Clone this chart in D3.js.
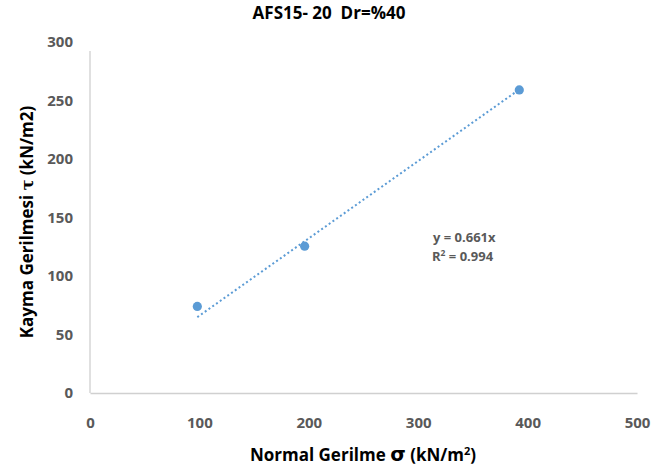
<!DOCTYPE html>
<html>
<head>
<meta charset="utf-8">
<script src="https://cdn.jsdelivr.net/npm/d3@7"></script>
<style>
  html, body { margin: 0; padding: 0; background: #fff; }
  svg { display: block; }
  text { font-family: "Open Sans", "Noto Sans", sans-serif; font-weight: bold; }
</style>
</head>
<body>
<svg id="chart" width="651" height="476"></svg>
<script>
// Direct shear test results: normal stress vs shear stress
const normalStress = [98.1, 196.2, 392.4];   // σ (kN/m²)
const shearStress  = [74, 125.5, 259];        // τ (kN/m²)
const xTicks = [0, 100, 200, 300, 400, 500];
const yTicks = [0, 50, 100, 150, 200, 250, 300];
const trendSlope = 0.661;
const trendR2 = 0.994;
const titleText = "AFS15- 20  Dr=%40";

const svg = d3.select("#chart");

const plot = { left: 90, right: 637, top: 42, bottom: 393, lineTop: 51 };

const x = d3.scaleLinear().domain([0, 500]).range([plot.left, plot.right]);
const y = d3.scaleLinear().domain([0, 300]).range([plot.bottom, plot.top]);

const axisColor = "#d0d0d0";
const tickColor = "#595959";
const blue = "#5b9bd5";
const font = "'Open Sans', sans-serif";

// Title
svg.append("text")
  .attr("x", 329).attr("y", 18.5)
  .attr("text-anchor", "middle")
  .attr("font-size", 17)
  .attr("fill", "#000")
  .style("white-space", "pre")
  .text(titleText);

// X axis
const gx = svg.append("g").attr("transform", `translate(0,${plot.bottom})`)
  .call(d3.axisBottom(x).tickValues(xTicks).tickSize(0).tickPadding(24).tickFormat(d3.format("d")));
gx.select(".domain").attr("stroke", axisColor).attr("stroke-width", 1.3);
gx.selectAll("text").attr("fill", tickColor).attr("font-size", 15)
  .style("font-family", font).style("font-weight", "bold");

// Y axis
const gy = svg.append("g").attr("transform", `translate(${plot.left},0)`)
  .call(d3.axisLeft(y).tickValues(yTicks).tickSize(0).tickPadding(17).tickFormat(d3.format("d")));
gy.select(".domain").attr("stroke", axisColor).attr("stroke-width", 1.3)
  .attr("d", `M0,${plot.bottom}V${plot.lineTop}`);
gy.selectAll("text").attr("fill", tickColor).attr("font-size", 15)
  .style("font-family", font).style("font-weight", "bold");

// Linear trendline through the origin, spanning the measured σ range
const xMin = d3.min(normalStress), xMax = d3.max(normalStress);
svg.append("line")
  .attr("x1", x(xMin)).attr("y1", y(trendSlope * xMin))
  .attr("x2", x(xMax)).attr("y2", y(trendSlope * xMax))
  .attr("stroke", blue)
  .attr("stroke-width", 2)
  .attr("stroke-dasharray", "2,2.6");

// Data points
const pts = normalStress.map((s, i) => ({ s, t: shearStress[i] }));
svg.append("g").selectAll("circle").data(pts).join("circle")
  .attr("cx", d => x(d.s))
  .attr("cy", d => y(d.t))
  .attr("r", 4.6)
  .attr("fill", blue);

// Trendline equation
const eq = svg.append("text")
  .attr("font-size", 13)
  .attr("fill", tickColor);
eq.append("tspan").attr("x", 433).attr("y", 242).text(`y = ${trendSlope}x`);
const r2 = eq.append("tspan").attr("x", 432).attr("y", 261);
r2.append("tspan").text("R");
r2.append("tspan").attr("dy", -5).attr("font-size", 8.5).text("2");
r2.append("tspan").attr("dy", 5).text(` = ${trendR2}`);

// X axis title
const xt = svg.append("text")
  .attr("x", 363).attr("y", 461)
  .attr("text-anchor", "middle")
  .attr("font-size", 17)
  .attr("fill", "#000");
xt.append("tspan").text("Normal Gerilme ");
xt.append("tspan").attr("font-size", 20).style("font-family", "'DejaVu Sans', sans-serif").text("σ");
xt.append("tspan").text(" (kN/m");
xt.append("tspan").attr("dy", -6).attr("font-size", 11).text("2");
xt.append("tspan").attr("dy", 6).text(")");

// Y axis title
const yt = svg.append("text")
  .attr("transform", `translate(33,${(plot.bottom + plot.lineTop) / 2}) rotate(-90)`)
  .attr("text-anchor", "middle")
  .attr("font-size", 17)
  .attr("fill", "#000");
yt.append("tspan").text("Kayma Gerilmesi ");
yt.append("tspan").attr("font-size", 16).style("font-family", "'DejaVu Serif', serif").text("τ");
yt.append("tspan").text(" (kN/m2)");
</script>
</body>
</html>
